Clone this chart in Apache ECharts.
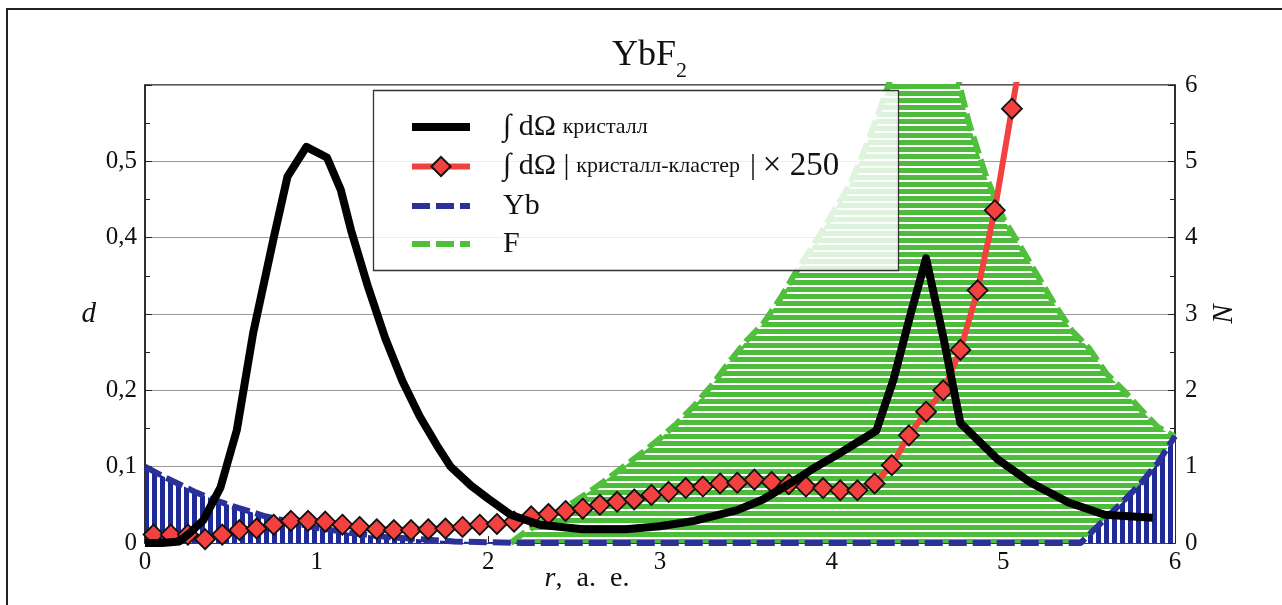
<!DOCTYPE html>
<html>
<head>
<meta charset="utf-8">
<script src="https://cdn.jsdelivr.net/npm/echarts@6/dist/echarts.min.js"></script>
<style>
  html, body { margin: 0; padding: 0; background: #ffffff; }
  #chart { width: 1282px; height: 605px; }
</style>
</head>
<body>
<div id="chart"></div>
<script>
// ---- data (r in atomic units) ----
// integral over the crystal, left axis d
const crystalR = [0, 0.1, 0.2, 0.26, 0.34, 0.44, 0.535, 0.63, 0.75, 0.83, 0.94, 1.06, 1.14, 1.2, 1.3, 1.4, 1.5, 1.6, 1.7, 1.78, 1.9, 2.0, 2.13, 2.3, 2.55, 2.8, 3.0, 3.2, 3.45, 3.6, 3.72, 3.82, 3.91, 4.05, 4.15, 4.26, 4.36, 4.46, 4.55, 4.65, 4.75, 4.97, 5.16, 5.38, 5.59, 5.87];
const crystalD = [0, 0, 0.002, 0.013, 0.03, 0.073, 0.148, 0.275, 0.40, 0.48, 0.519, 0.505, 0.463, 0.41, 0.335, 0.268, 0.212, 0.166, 0.128, 0.10, 0.075, 0.058, 0.037, 0.024, 0.018, 0.018, 0.022, 0.029, 0.043, 0.057, 0.073, 0.087, 0.100, 0.118, 0.132, 0.147, 0.214, 0.30, 0.373, 0.27, 0.157, 0.109, 0.079, 0.053, 0.037, 0.033];

// |crystal - cluster| difference x 250, right axis N
const diffR = [0.05, 0.15, 0.25, 0.35, 0.45, 0.55, 0.65, 0.75, 0.85, 0.95, 1.05, 1.15, 1.25, 1.35, 1.45, 1.55, 1.65, 1.75, 1.85, 1.95, 2.05, 2.15,
               2.25, 2.35, 2.45, 2.55, 2.65, 2.75, 2.85, 2.95, 3.05, 3.15, 3.25, 3.35, 3.45, 3.55, 3.65, 3.75, 3.85, 3.95, 4.05, 4.15, 4.25, 4.35,
               4.45, 4.55, 4.65, 4.75, 4.85, 4.95, 5.05, 5.15];
const diffN = [0.11, 0.11, 0.11, 0.05, 0.11, 0.17, 0.19, 0.24, 0.29, 0.29, 0.28, 0.24, 0.21, 0.18, 0.17, 0.17, 0.18, 0.19, 0.21, 0.24, 0.25, 0.28,
               0.35, 0.38, 0.42, 0.45, 0.50, 0.54, 0.57, 0.63, 0.67, 0.72, 0.74, 0.78, 0.79, 0.83, 0.80, 0.77, 0.74, 0.72, 0.69, 0.69, 0.78, 1.02,
               1.41, 1.72, 2.0, 2.53, 3.31, 4.36, 5.69, 7.0];

// Yb neighbours, right axis N
const ybR = [0, 0.1, 0.2, 0.3, 0.4, 0.5, 0.6, 0.7, 0.8, 0.9, 1.0, 1.2, 1.4, 1.6, 1.8, 2.0, 2.2, 5.45, 5.6, 5.7, 5.8, 5.9, 6.0];
const ybN = [1.0, 0.88, 0.77, 0.66, 0.57, 0.49, 0.42, 0.35, 0.30, 0.25, 0.20, 0.13, 0.08, 0.05, 0.02, 0.01, 0, 0, 0.33, 0.55, 0.78, 1.05, 1.4];

// F neighbours, right axis N
const fR = [2.13, 2.2, 2.3, 2.4, 2.5, 2.6, 2.7, 2.8, 2.9, 3.0, 3.1, 3.2, 3.3, 3.4, 3.5, 3.6, 3.7, 3.8, 3.9, 4.0, 4.1, 4.2, 4.3, 4.4, 4.5, 4.6, 4.7, 4.8, 4.9, 5.0, 5.1, 5.2, 5.3, 5.4, 5.5, 5.6, 5.7, 5.8, 5.9, 6.0];
const fN = [0, 0.12, 0.26, 0.40, 0.54, 0.69, 0.85, 1.02, 1.19, 1.37, 1.57, 1.80, 2.06, 2.36, 2.64, 2.87, 3.20, 3.58, 3.92, 4.30, 4.67, 5.19, 5.80, 6.45, 7.1, 7.2, 6.4, 5.5, 4.8, 4.25, 3.88, 3.5, 3.12, 2.78, 2.55, 2.22, 2.0, 1.75, 1.52, 1.39];

const seriesNames = ['∫ dΩ кристалл', '∫ dΩ | кристалл-кластер | × 250', 'Yb', 'F'];

const serif = '"Liberation Serif", "Times New Roman", "DejaVu Serif", serif';

function pairs(xs, ys) { return xs.map((x, i) => [x, ys[i]]); }

// striped fill used for the neighbour-count areas
function stripes(w, h, color, vertical, band) {
  const c = document.createElement('canvas');
  c.width = w; c.height = h;
  const g = c.getContext('2d');
  g.fillStyle = '#ffffff';
  g.fillRect(0, 0, w, h);
  g.fillStyle = color;
  if (vertical) g.fillRect(0, 0, band, h); else g.fillRect(0, 0, w, band);
  return { image: c, repeat: 'repeat' };
}

const legendText = {};
legendText[seriesNames[0]] = '{b|∫ dΩ}  {s|кристалл}';
legendText[seriesNames[1]] = '{b|∫ dΩ |}  {s|кристалл-кластер}   {b||}  {g|× 250}';
legendText[seriesNames[2]] = '{b|Yb}';
legendText[seriesNames[3]] = '{b|F}';

const chart = echarts.init(document.getElementById('chart'), null, { renderer: 'canvas' });

const option = {
  backgroundColor: '#ffffff',
  animation: false,
  title: {
    text: '{m|YbF}{s|2}',
    left: 612, top: 38, padding: 0,
    textStyle: {
      fontWeight: 'normal',
      rich: {
        m: { fontFamily: serif, fontSize: 36, fontWeight: 'normal', color: '#111', lineHeight: 44, verticalAlign: 'top' },
        s: { fontFamily: serif, fontSize: 22, fontWeight: 'normal', color: '#111', lineHeight: 32, verticalAlign: 'bottom' }
      }
    }
  },
  grid: { left: 145, top: 85, right: 107, bottom: 62, show: true, borderColor: '#222', borderWidth: 1.5, backgroundColor: 'transparent' },
  legend: {
    orient: 'vertical', left: 408, top: 112, padding: 0,
    itemWidth: 58, itemHeight: 24, itemGap: 8, selectedMode: false, z: 20,
    lineStyle: { width: 'inherit' },
    data: [
      { name: seriesNames[0], itemStyle: { opacity: 0 } },
      { name: seriesNames[1] },
      { name: seriesNames[2], itemStyle: { opacity: 0 } },
      { name: seriesNames[3], itemStyle: { opacity: 0 } }
    ],
    formatter: name => legendText[name],
    textStyle: {
      padding: [0, 0, 0, 28],
      rich: {
        b: { fontFamily: serif, fontSize: 30, color: '#111', lineHeight: 34 },
        g: { fontFamily: serif, fontSize: 33, color: '#111', lineHeight: 34 },
        s: { fontFamily: serif, fontSize: 22, color: '#111', lineHeight: 34 }
      }
    }
  },
  xAxis: {
    type: 'value', min: 0, max: 6, interval: 1,
    name: '{i|r},  а.  е.', nameLocation: 'middle', nameGap: 22, nameMoveOverlap: false,
    nameTextStyle: { fontFamily: serif, fontSize: 28, color: '#111', padding: [0, 146, 0, 0],
      rich: { i: { fontFamily: serif, fontSize: 28, fontStyle: 'italic', color: '#111' } } },
    axisLine: { lineStyle: { color: '#222', width: 1.5 } },
    axisTick: { inside: true, length: 7, lineStyle: { color: '#222' } },
    minorTick: { show: true, splitNumber: 2, length: 4, lineStyle: { color: '#222' } },
    axisLabel: { fontFamily: serif, fontSize: 25, color: '#111', margin: 7 },
    splitLine: { show: false }
  },
  yAxis: [
    {
      type: 'value', min: 0, max: 0.6, interval: 0.1, position: 'left',
      name: 'd', nameLocation: 'middle', nameRotate: 0, nameGap: 49,
      nameTextStyle: { fontFamily: serif, fontSize: 29, fontStyle: 'italic', color: '#111' },
      axisLine: { show: true, lineStyle: { color: '#222', width: 1.5 } },
      axisTick: { show: true, inside: true, length: 7, lineStyle: { color: '#222' } },
      minorTick: { show: true, splitNumber: 2, length: 5, lineStyle: { color: '#222' } },
      axisLabel: {
        fontFamily: serif, fontSize: 25, color: '#111', margin: 8,
        formatter: v => {
          const k = Math.round(v * 10);
          if (k === 3 || k === 6) return '';
          return k === 0 ? '0' : '0,' + k;
        }
      },
      splitLine: { show: true, lineStyle: { color: '#9a9a9a', width: 1.2 } }
    },
    {
      type: 'value', min: 0, max: 6, interval: 1, position: 'right',
      name: 'N', nameLocation: 'middle', nameGap: 35,
      nameTextStyle: { fontFamily: serif, fontSize: 29, fontStyle: 'italic', color: '#111' },
      axisLine: { show: true, lineStyle: { color: '#222', width: 1.5 } },
      axisTick: { show: true, inside: true, length: 7, lineStyle: { color: '#222' } },
      minorTick: { show: true, splitNumber: 2, length: 5, lineStyle: { color: '#222' } },
      axisLabel: { fontFamily: serif, fontSize: 25, color: '#111', margin: 10 },
      splitLine: { show: false }
    }
  ],
  graphic: [
    { type: 'rect', z: -10, silent: true, shape: { x: 7, y: 9, width: 1320, height: 720 },
      style: { fill: 'none', stroke: '#222', lineWidth: 2 } },
    { type: 'rect', z: 10, silent: true, shape: { x: 373.5, y: 90.5, width: 525, height: 180 },
      style: { fill: 'rgba(255,255,255,0.82)', stroke: '#333', lineWidth: 1.3 } }
  ],
  series: [
    {
      name: seriesNames[3], type: 'line', yAxisIndex: 1, z: 2,
      data: pairs(fR, fN), symbol: 'none',
      lineStyle: { color: '#4fbf3c', width: 6, type: [18, 6] },
      itemStyle: { color: '#4fbf3c' },
      areaStyle: { color: stripes(8, 7, '#4cbc3a', false, 5), opacity: 1 }
    },
    {
      name: seriesNames[2], type: 'line', yAxisIndex: 1, z: 3,
      data: pairs(ybR, ybN), symbol: 'none',
      lineStyle: { color: '#2b3199', width: 6, type: [18, 6] },
      itemStyle: { color: '#2b3199' },
      areaStyle: { color: stripes(8, 8, '#1e2a98', true, 5), opacity: 1 }
    },
    {
      name: seriesNames[1], type: 'line', yAxisIndex: 1, z: 4,
      data: pairs(diffR, diffN),
      symbol: 'diamond', symbolSize: 20,
      lineStyle: { color: '#f2413f', width: 6 },
      itemStyle: { color: '#f2413f', borderColor: '#111', borderWidth: 1.8 }
    },
    {
      name: seriesNames[0], type: 'line', yAxisIndex: 0, z: 5,
      data: pairs(crystalR, crystalD), symbol: 'none',
      lineStyle: { color: '#000', width: 8, join: 'round' },
      itemStyle: { color: '#000' }
    }
  ]
};

chart.setOption(option);
</script>
</body>
</html>
